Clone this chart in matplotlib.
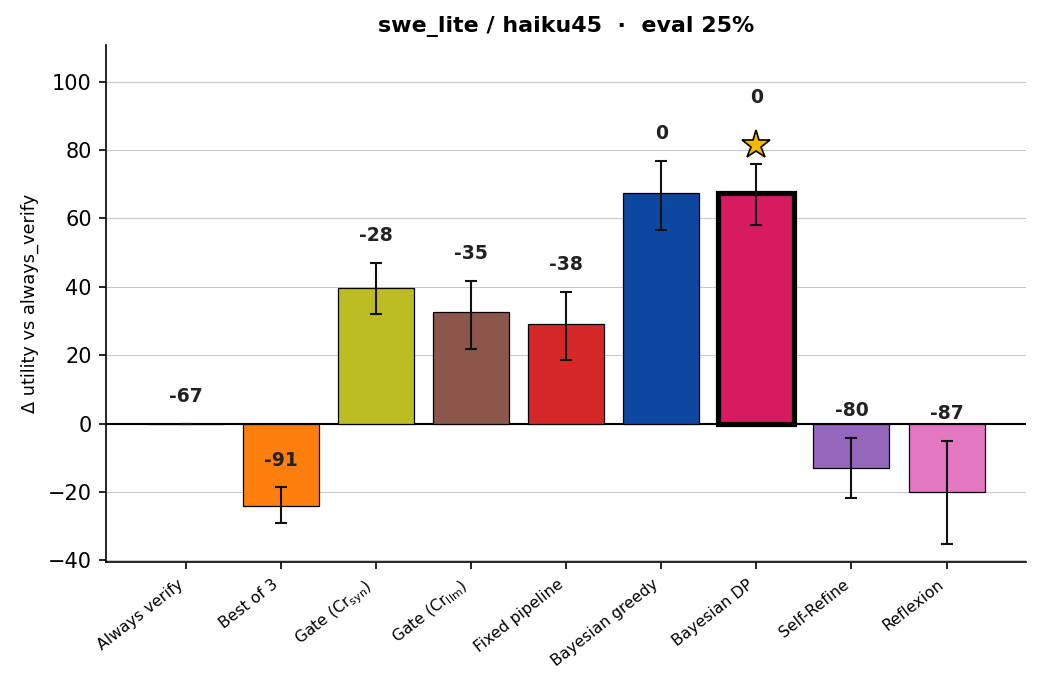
import numpy as np
import matplotlib
matplotlib.use("Agg")
import matplotlib.pyplot as plt

methods = ["Always verify", "Best of 3", "Gate (Cr$_{\\mathrm{syn}}$)", "Gate (Cr$_{\\mathrm{llm}}$)",
           "Fixed pipeline", "Bayesian greedy", "Bayesian DP", "Self-Refine", "Reflexion"]
delta = [0.0, -24.0, 39.8, 32.5, 29.2, 67.5, 67.5, -12.9, -19.9]
err_lo = [0.0, -29.1, 32.2, 21.9, 18.7, 56.7, 58.2, -21.9, -35.1]
err_hi = [0.0, -18.7, 47.1, 41.8, 38.6, 76.9, 76.0, -4.1, -5.0]
raw_util = ["-67", "-91", "-28", "-35", "-38", "0", "0", "-80", "-87"]
colors = ["#7f7f7f", "#ff7f0e", "#bcbd22", "#8c564b", "#d62728",
          "#0d47a1", "#d81b60", "#9467bd", "#e377c2"]
best = 6

x = np.arange(len(methods))
d = np.array(delta)
yerr = np.array([d - np.array(err_lo), np.array(err_hi) - d])

fig, ax = plt.subplots(figsize=(1042/150, 690/150), dpi=150)
bars = ax.bar(x, d, width=0.8, color=colors, edgecolor="black", linewidth=0.6, zorder=3)
bars[best].set_linewidth(2.5)
ax.errorbar(x, d, yerr=yerr, fmt="none", ecolor="#111111", elinewidth=1.0, capsize=3, capthick=1.0, zorder=4)

for i in range(len(methods)):
    top = max(d[i], err_hi[i])
    if i == best:
        ax.plot(x[i], top + 5.5, marker="*", markersize=14, color="#f5b800",
                markeredgecolor="black", markeredgewidth=0.8, zorder=5)
        ax.text(x[i], top + 19.5, raw_util[i], ha="center", va="center",
                fontsize=9, fontweight="bold", color="#222222", zorder=6)
    else:
        ax.text(x[i], top + 8, raw_util[i], ha="center", va="center",
                fontsize=9, fontweight="bold", color="#222222", zorder=6)

ax.axhline(0, color="black", linewidth=1.0, zorder=2)
ax.set_ylim(-40.6, 110.8)
ax.set_xticks(x)
ax.set_xticklabels(methods, rotation=38, ha="right", fontsize=7.5)
ax.tick_params(axis="y", labelsize=10)
ax.set_ylabel("Δ utility vs always_verify", fontsize=8.5)
ax.set_title("swe_lite / haiku45  ·  eval 25%", fontsize=10.6, fontweight="bold")
ax.grid(axis="y", color="#c8c8c8", linewidth=0.5, zorder=0)
ax.set_axisbelow(True)
ax.spines["top"].set_visible(False)
ax.spines["right"].set_visible(False)

fig.subplots_adjust(left=0.102, right=0.985, top=0.935, bottom=0.185)
plt.savefig("out.png", dpi=150)
plt.close()
